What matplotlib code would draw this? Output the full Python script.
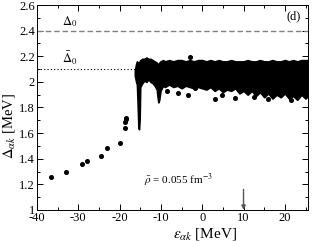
import matplotlib
matplotlib.use("Agg")
import matplotlib.pyplot as plt
import numpy as np

plt.rcParams['font.family'] = ['Liberation Serif', 'DejaVu Serif']
plt.rcParams['mathtext.fontset'] = 'stix'

# isolated low-energy states
iso_E = [-36.6, -33.0, -29.1, -27.9, -24.6, -23.1, -19.9, -18.7, -18.6, -18.5, -18.5]
iso_D = [1.26, 1.30, 1.36, 1.38, 1.42, 1.48, 1.52, 1.64, 1.69, 1.71, 1.72]

# dense band: upper and lower envelope
band_E = [-16.3, -16.0, -15.8, -15.6, -15.45, -15.3, -15.15, -15.0, -14.5, -14.0,
          -13.5, -13.0, -12.5, -12.0, -11.5, -11.0, -10.8, -10.6, -10.4, -10.1,
          -9.5, -9.0, -8.0, -7.0, -6.0, -5.0, -4.0, -3.0, -2.0, -1.0,
          0.0, 1.0, 2.0, 3.0, 4.0, 5.0, 6.0, 7.0, 8.0, 9.0,
          10.0, 11.0, 12.0, 13.0, 14.0, 15.0, 16.0, 17.0, 18.0, 19.0,
          20.0, 21.0, 22.0, 23.0, 24.0, 25.0, 25.6]
band_hi = [2.09, 2.14, 2.16, 2.15, 2.15, 2.14, 2.16, 2.17, 2.18, 2.18,
           2.19, 2.18, 2.18, 2.17, 2.16, 2.15, 2.14, 2.13, 2.15, 2.16,
           2.17, 2.16, 2.17, 2.16, 2.17, 2.17, 2.16, 2.17, 2.16, 2.17,
           2.17, 2.16, 2.17, 2.16, 2.17, 2.16, 2.16, 2.17, 2.16, 2.16,
           2.16, 2.17, 2.16, 2.16, 2.17, 2.16, 2.16, 2.17, 2.16, 2.16,
           2.17, 2.16, 2.17, 2.16, 2.17, 2.17, 2.17]
band_lo = [2.05, 2.00, 1.98, 1.80, 1.65, 1.63, 1.70, 1.96, 1.99, 2.01,
           2.00, 2.02, 2.00, 1.99, 1.97, 1.94, 1.88, 1.84, 1.86, 1.93,
           1.97, 1.96, 1.98, 1.96, 1.97, 1.95, 1.97, 1.96, 1.95, 1.96,
           1.95, 1.94, 1.96, 1.93, 1.95, 1.92, 1.94, 1.93, 1.95, 1.91,
           1.93, 1.90, 1.93, 1.89, 1.92, 1.88, 1.91, 1.87, 1.90, 1.88,
           1.91, 1.87, 1.89, 1.86, 1.90, 1.87, 1.89]

# scattered outliers around the band
out_E = [-3.0, -5.9, -3.4, -1.7, 3.1, 4.8, 7.9, -8.5, 12.5, 16.0, 21.5]
out_D = [2.195, 1.91, 1.90, 1.95, 1.87, 1.90, 1.875, 1.93, 1.88, 1.87, 1.86]

delta0 = 2.4
delta0_bar = 2.1
arrow_E = 10

fig = plt.figure(figsize=(3.13, 2.41), dpi=100)
ax = fig.add_axes([0.118, 0.129, 0.866, 0.850])

ax.axhline(delta0, color='#808080', lw=1.0, ls=(0, (4, 2)))
ax.hlines(delta0_bar, -40, -16.3, color='black', lw=0.8, ls=(0, (1, 2)))

ax.fill_between(band_E, band_lo, band_hi, color='black', lw=1.2, edgecolor='black')
ax.plot(iso_E, iso_D, 'o', color='black', ms=2.6)
ax.plot(out_E, out_D, 'o', color='black', ms=2.6)

ax.annotate('', xy=(arrow_E, 1.0), xytext=(arrow_E, 1.16),
            arrowprops=dict(arrowstyle='-|>', color='#555555', lw=1.0,
                            mutation_scale=6, shrinkA=0, shrinkB=0))

ax.text(-34, 2.445, r'$\Delta_0$', fontsize=9)
ax.text(-34, 2.145, r'$\bar{\Delta}_0$', fontsize=9)
ax.text(20.5, 2.49, '(d)', fontsize=9)
ax.text(-14, 1.2, r'$\bar{\rho}$ = 0.055 fm$^{-3}$', fontsize=8)

ax.set_xlim(-40, 25.6)
ax.set_ylim(1.0, 2.6)
ax.set_xticks([-40, -30, -20, -10, 0, 10, 20])
ax.set_xticklabels(['-40', '-30', '-20', '-10', '0', '10', '20'])
ax.set_xticks(np.arange(-35, 26, 10), minor=True)
ax.set_yticks([1.0, 1.2, 1.4, 1.6, 1.8, 2.0, 2.2, 2.4, 2.6])
ax.set_yticklabels(['1', '1.2', '1.4', '1.6', '1.8', '2', '2.2', '2.4', '2.6'])
ax.set_yticks(np.arange(1.1, 2.6, 0.2), minor=True)
ax.tick_params(which='both', direction='in', top=True, right=True, labelsize=9, pad=1.5)
ax.tick_params(which='major', length=4, width=0.7)
ax.tick_params(which='minor', length=2, width=0.7)
for s in ax.spines.values():
    s.set_linewidth(0.7)

ax.set_xlabel(r'$\varepsilon_{\alpha k}$ [MeV]', fontsize=11, labelpad=0)
ax.xaxis.set_label_coords(0.62, -0.08)
ax.set_ylabel(r'$\Delta_{\alpha k}$ [MeV]', fontsize=10.5, labelpad=0)
ax.yaxis.set_label_coords(-0.075, 0.41)

fig.savefig('out.png', dpi=100)
